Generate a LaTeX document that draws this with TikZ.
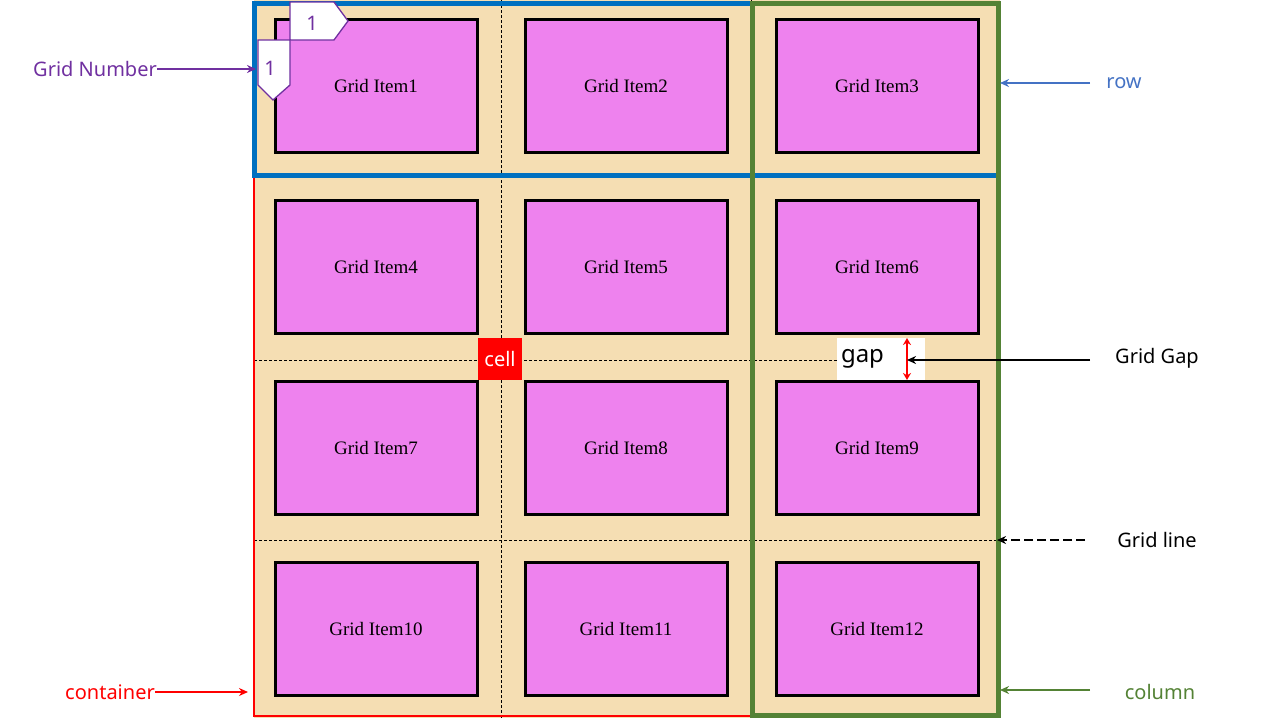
\documentclass[tikz,border=0pt]{standalone}
\usepackage{fontspec}
\setmainfont{Liberation Serif}
\newfontfamily\lab{Noto Sans}
\usetikzlibrary{arrows.meta}
\definecolor{wheatc}{HTML}{F5DEB3}
\definecolor{violetc}{HTML}{EE82EE}
\definecolor{rowblue}{HTML}{0070C0}
\definecolor{labblue}{HTML}{4472C4}
\definecolor{colgreen}{HTML}{548235}
\definecolor{numpurple}{HTML}{7030A0}
\begin{document}
\begin{tikzpicture}[x=1pt,y=-1pt,
  item/.style={draw=black,line width=3pt,fill=violetc,minimum width=202pt,minimum height=133pt,inner sep=0pt,font=\fontsize{19}{19}\selectfont},
  lbl/.style={font=\lab\bfseries\fontsize{20}{20}\selectfont,inner sep=0pt},
  arr/.style={line width=2pt,-{Stealth[length=9pt,width=8pt]}},
  gl/.style={black,dashed,line width=0.5pt,dash pattern=on 3pt off 2pt}]
\useasboundingbox (0,0) rectangle (1280,720);
\fill[wheatc] (254,0) rectangle (1000,718);
\draw[gl] (501,0) -- (501,718);
\draw[gl] (751,0) -- (751,718);
\draw[gl] (254,360) -- (1000,360);
\draw[gl] (254,540) -- (1000,540);
\foreach \c/\x in {0/376,1/626,2/877}{
  \foreach \r/\y in {0/86,1/267,2/448,3/629}{
    \pgfmathtruncatemacro{\n}{\r*3+\c+1}
    \node[item] (i\n) at (\x,\y) {Grid Item\n};
  }}
% container
\draw[red,line width=2.5pt] (254,178) -- (254,716) -- (751,716);
\draw[red,line width=1pt] (997,178) -- (997,716);
% row and column
\draw[rowblue,line width=5pt] (254,3) rectangle (998,175);
\draw[colgreen,line width=5pt] (752,3) rectangle (998,715);
% cell and gap
\node[fill=red,text=white,lbl,minimum width=44pt,minimum height=42pt] (cell) at (500,359) {cell};
\node[fill=white,lbl,font=\lab\bfseries\fontsize{24}{24}\selectfont,minimum width=88pt,minimum height=42pt,text width=80pt] (gap) at (881,359) {gap};
\coordinate (gt) at (907,338); \coordinate (gb) at (907,380); \coordinate (gm) at (907,360);
\draw[red,line width=2pt,{Stealth[length=7pt,width=8pt]}-{Stealth[length=7pt,width=8pt]}] (gt) -- (gb);
% number tags
\draw[numpurple,line width=1.3pt,fill=white] (290,2) -- (334,2) -- (348,21) -- (334,40) -- (290,40) -- cycle;
\node[numpurple,lbl] (n1) at (312,23) {1};
\draw[numpurple,line width=1.3pt,fill=white] (258,40) -- (290,40) -- (290,85) -- (273,100) -- (258,85) -- cycle;
\node[numpurple,lbl] (n2) at (270,68) {1};
% labels
\node[lbl,numpurple,anchor=east] (gn) at (157,69) {Grid Number};
\coordinate (gnt) at (256,69);
\draw[arr,numpurple] (gn) -- (gnt);
\node[lbl,labblue] (rowl) at (1124,83) {row};
\coordinate (rowt) at (1000,83);
\draw[arr,labblue] (1090,83) -- (rowt);
\node[lbl] (ggl) at (1157,358) {Grid Gap};
\draw[arr,black] (1090,360) -- (gm);
\node[lbl] (gll) at (1157,540) {Grid line};
\coordinate (glt) at (997,540);
\draw[arr,black,dash pattern=on 9pt off 4pt] (1085,540) -- (glt);
\node[lbl,colgreen] (coll) at (1160,692) {column};
\coordinate (colt) at (1000,690);
\draw[arr,colgreen] (1090,690) -- (colt);
\node[lbl,red,anchor=east] (conl) at (155,692) {container};
\coordinate (cont) at (248,692);
\draw[arr,red] (conl) -- (cont);
\end{tikzpicture}
\end{document}
